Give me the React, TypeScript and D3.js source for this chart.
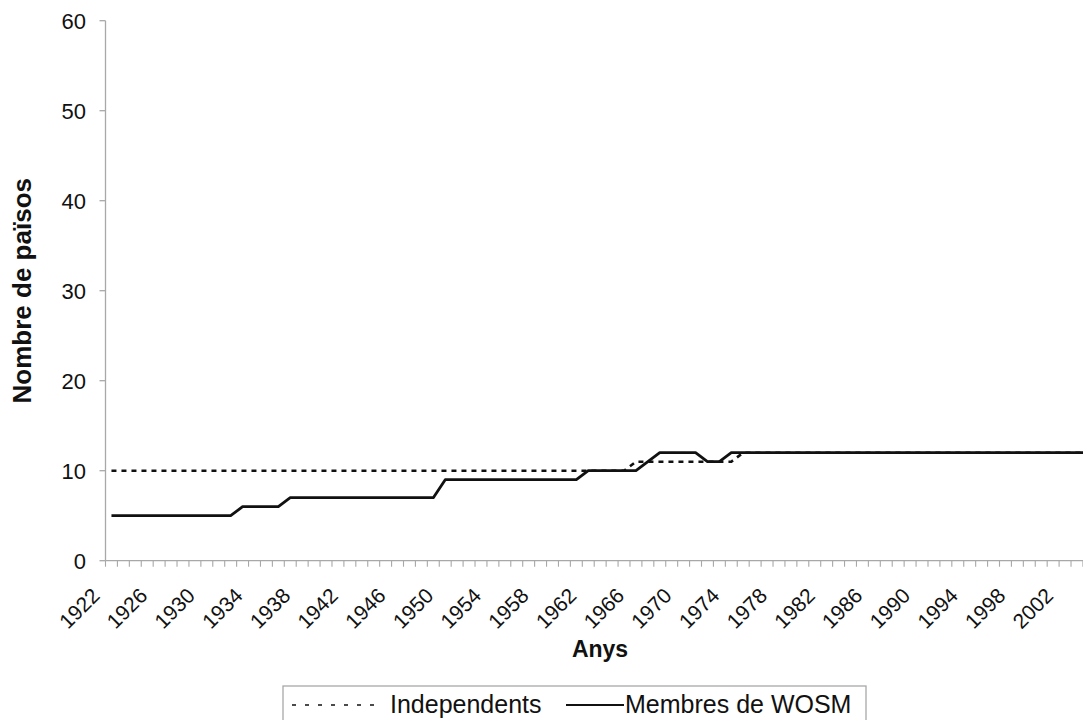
import React from "react";
import * as d3 from "d3";

const years: number[] = d3.range(1922, 2006);
const yearLabels: number[] = [1922, 1926, 1930, 1934, 1938, 1942, 1946, 1950, 1954, 1958, 1962, 1966, 1970, 1974, 1978, 1982, 1986, 1990, 1994, 1998, 2002];
const yTicks: number[] = [0, 10, 20, 30, 40, 50, 60];

// Independents (dashed)
const independents: number[] = [
  10, 10, 10, 10, 10, 10, 10, 10, 10, 10, // 1922-1931
  10, 10, 10, 10, 10, 10, 10, 10, 10, 10, // 1932-1941
  10, 10, 10, 10, 10, 10, 10, 10, 10, 10, // 1942-1951
  10, 10, 10, 10, 10, 10, 10, 10, 10, 10, // 1952-1961
  10, 10, 10, 10, 11, 11, 11, 11, 11, 11, // 1962-1971
  11, 11, 11, 12, 12, 12, 12, 12, 12, 12, // 1972-1981
  12, 12, 12, 12, 12, 12, 12, 12, 12, 12, // 1982-1991
  12, 12, 12, 12, 12, 12, 12, 12, 12, 12, // 1992-2001
  12, 12, 12, 12,                         // 2002-2005
];

// Membres de WOSM (solid)
const wosm: number[] = [
  5, 5, 5, 5, 5, 5, 5, 5, 5, 5,           // 1922-1931
  5, 6, 6, 6, 6, 7, 7, 7, 7, 7,           // 1932-1941
  7, 7, 7, 7, 7, 7, 7, 7, 9, 9,           // 1942-1951
  9, 9, 9, 9, 9, 9, 9, 9, 9, 9,           // 1952-1961
  10, 10, 10, 10, 10, 11, 12, 12, 12, 12, // 1962-1971
  11, 11, 12, 12, 12, 12, 12, 12, 12, 12, // 1972-1981
  12, 12, 12, 12, 12, 12, 12, 12, 12, 12, // 1982-1991
  12, 12, 12, 12, 12, 12, 12, 12, 12, 12, // 1992-2001
  12, 12, 12, 12,                         // 2002-2005
];

const W = 1083;
const H = 720;
const left = 105.5;
const catW = 11.92;
const right = left + catW * years.length;
const top = 20.7;
const bottom = 560.7;
const axisColor = "#a8a8a8";
const ink = "#111";
const font = "'Liberation Sans', Arial, Helvetica, sans-serif";

export default function App() {
  const x = d3.scaleBand<number>().domain(years).range([left, right]).paddingInner(0).paddingOuter(0);
  const y = d3.scaleLinear().domain([0, 60]).range([bottom, top]);
  const cx = (yr: number) => (x(yr) as number) + x.bandwidth() / 2;

  const line = d3
    .line<number>()
    .x((_, i) => cx(years[i]))
    .y((d) => y(d));

  const catTicks = d3.range(0, years.length + 1).map((i) => left + i * x.bandwidth());

  return (
    <svg
      width={W}
      height={H}
      style={{ position: "absolute", left: 0, top: 0, background: "#fff" }}
      fontFamily={font}
    >
      <rect x={0} y={0} width={W} height={H} fill="#fff" />
      {/* axes */}
      <line x1={left} x2={left} y1={top} y2={bottom} stroke={axisColor} strokeWidth={1.3} />
      <line x1={left} x2={right} y1={bottom} y2={bottom} stroke={axisColor} strokeWidth={1.3} />
      {yTicks.map((t) => (
        <g key={t}>
          <line x1={left - 6} x2={left} y1={y(t)} y2={y(t)} stroke={axisColor} strokeWidth={1.3} />
          <text x={86} y={y(t)} dy="0.36em" textAnchor="end" fontSize={22} fill={ink}>
            {t}
          </text>
        </g>
      ))}
      {catTicks.map((tx, i) => (
        <line key={i} x1={tx} x2={tx} y1={bottom} y2={bottom + 6} stroke={axisColor} strokeWidth={1.1} />
      ))}
      {yearLabels.map((yr) => (
        <text
          key={yr}
          transform={`translate(${cx(yr) - 10.5},${597}) rotate(-45)`}
          textAnchor="end"
          fontSize={21}
          fill={ink}
        >
          {yr}
        </text>
      ))}
      {/* series */}
      <path d={line(independents) || ""} fill="none" stroke={ink} strokeWidth={2.6} strokeDasharray="5,5" />
      <path d={line(wosm) || ""} fill="none" stroke={ink} strokeWidth={2.8} strokeLinejoin="round" />
      {/* axis titles */}
      <text x={600} y={657} textAnchor="middle" fontSize={23} fontWeight="bold" fill={ink}>
        Anys
      </text>
      <text
        transform={`translate(31,${(top + bottom) / 2}) rotate(-90)`}
        textAnchor="middle"
        fontSize={26}
        fontWeight="bold"
        fill={ink}
      >
        Nombre de països
      </text>
      {/* legend */}
      <rect x={283} y={686} width={583} height={50} fill="#fff" stroke={axisColor} strokeWidth={1.3} />
      <line x1={292} x2={374} y1={705} y2={705} stroke={ink} strokeWidth={1.6} strokeDasharray="4,9" />
      <text x={390} y={713} fontSize={25} fill={ink}>Independents</text>
      <line x1={566} x2={624} y1={705} y2={705} stroke={ink} strokeWidth={2} />
      <text x={625} y={713} fontSize={25} fill={ink}>Membres de WOSM</text>
    </svg>
  );
}
